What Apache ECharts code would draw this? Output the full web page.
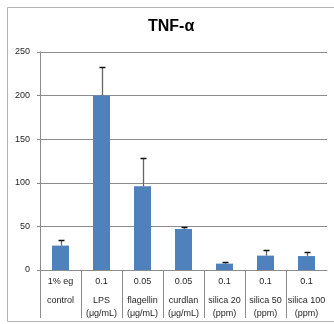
<!DOCTYPE html>
<html><head><meta charset="utf-8">
<script src="https://cdn.jsdelivr.net/npm/echarts@6/dist/echarts.min.js"></script>
<style>html,body{margin:0;padding:0;background:#fff}#c{width:334px;height:324px}</style>
</head><body><div id="c"></div>
<script>
const doses = ['1% eg','0.1','0.05','0.05','0.1','0.1','0.1'];
const agents = ['control','LPS','flagellin','curdlan','silica 20','silica 50','silica 100'];
const units = ['','(μg/mL)','(μg/mL)','(μg/mL)','(ppm)','(ppm)','(ppm)'];
const values = [28, 200, 96, 47, 7.3, 16.5, 16];
const errors = [6, 32.5, 33, 2.7, 1.6, 6.5, 4.3];
const yTicks = [0, 50, 100, 150, 200, 250];

const chart = echarts.init(document.getElementById('c'), null, {renderer:'canvas'});
const font = 'Liberation Sans';
const gridGray = '#8c8c8c';
chart.setOption({
  animation:false,
  graphic:[{type:'rect', shape:{x:7.5,y:7.5,width:340,height:314}, style:{fill:'none',stroke:'#b4b4b4',lineWidth:1}, silent:true, z:-1}],
  title:{text:'TNF-α', left:148, top:19, textStyle:{fontFamily:font,fontWeight:'bold',fontSize:16,color:'#000'}, padding:0},
  grid:{left:40,right:7,top:52,bottom:54},
  xAxis:{type:'category', data:agents, boundaryGap:true,
    axisLine:{lineStyle:{color:gridGray,width:1}},
    axisTick:{show:false},
    axisLabel:{interval:0, margin:0, fontFamily:font, color:'#262626',
      formatter:function(v,i){return '{a|'+doses[i]+'}\n{b|'+agents[i]+'}\n{b|'+(units[i]||' ')+'}';},
      rich:{a:{fontFamily:font,fontSize:9,lineHeight:24,color:'#262626'},b:{fontFamily:font,fontSize:9,lineHeight:13,color:'#262626'}}}
  },
  yAxis:{type:'value', min:yTicks[0], max:yTicks[yTicks.length-1], interval:50,
    axisLine:{show:true,lineStyle:{color:gridGray}},
    axisTick:{show:true,length:3,lineStyle:{color:gridGray}},
    splitLine:{lineStyle:{color:gridGray}},
    axisLabel:{margin:10,fontFamily:font,fontSize:9,color:'#262626'}
  },
  series:[
    {type:'bar', data:values, barWidth:17, itemStyle:{color:'#4F81BD'}, z:2},
    {type:'custom', clip:false, z:3,
      data:values.map((v,i)=>[i,v,errors[i]]),
      renderItem:function(params, api){
        const i = api.value(0), v = api.value(1), e = api.value(2);
        const p0 = api.coord([i, v]);
        const p1 = api.coord([i, v+e]);
        const x = Math.round(p0[0])+0.5;
        const y1 = Math.round(p1[1])+0.5;
        return {type:'group', children:[
          {type:'line', shape:{x1:x,y1:p0[1],x2:x,y2:y1}, style:{stroke:'#666',lineWidth:1.3}},
          {type:'line', shape:{x1:x-3,y1:y1,x2:x+3,y2:y1}, style:{stroke:'#111',lineWidth:1.5}}
        ]};
      }
    },
    {type:'custom', clip:false, z:1, silent:true,
      data:values.map((v,i)=>[i,0]),
      renderItem:function(params, api){
        const i = api.value(0);
        const p = api.coord([i, 0]);
        const w = api.size([1,0])[0];
        const x = Math.round(p[0]-w/2)+0.5;
        return {type:'line', shape:{x1:x,y1:p[1],x2:x,y2:p[1]+48}, style:{stroke:gridGray,lineWidth:1}};
      }
    }
  ]
});
</script></body></html>
